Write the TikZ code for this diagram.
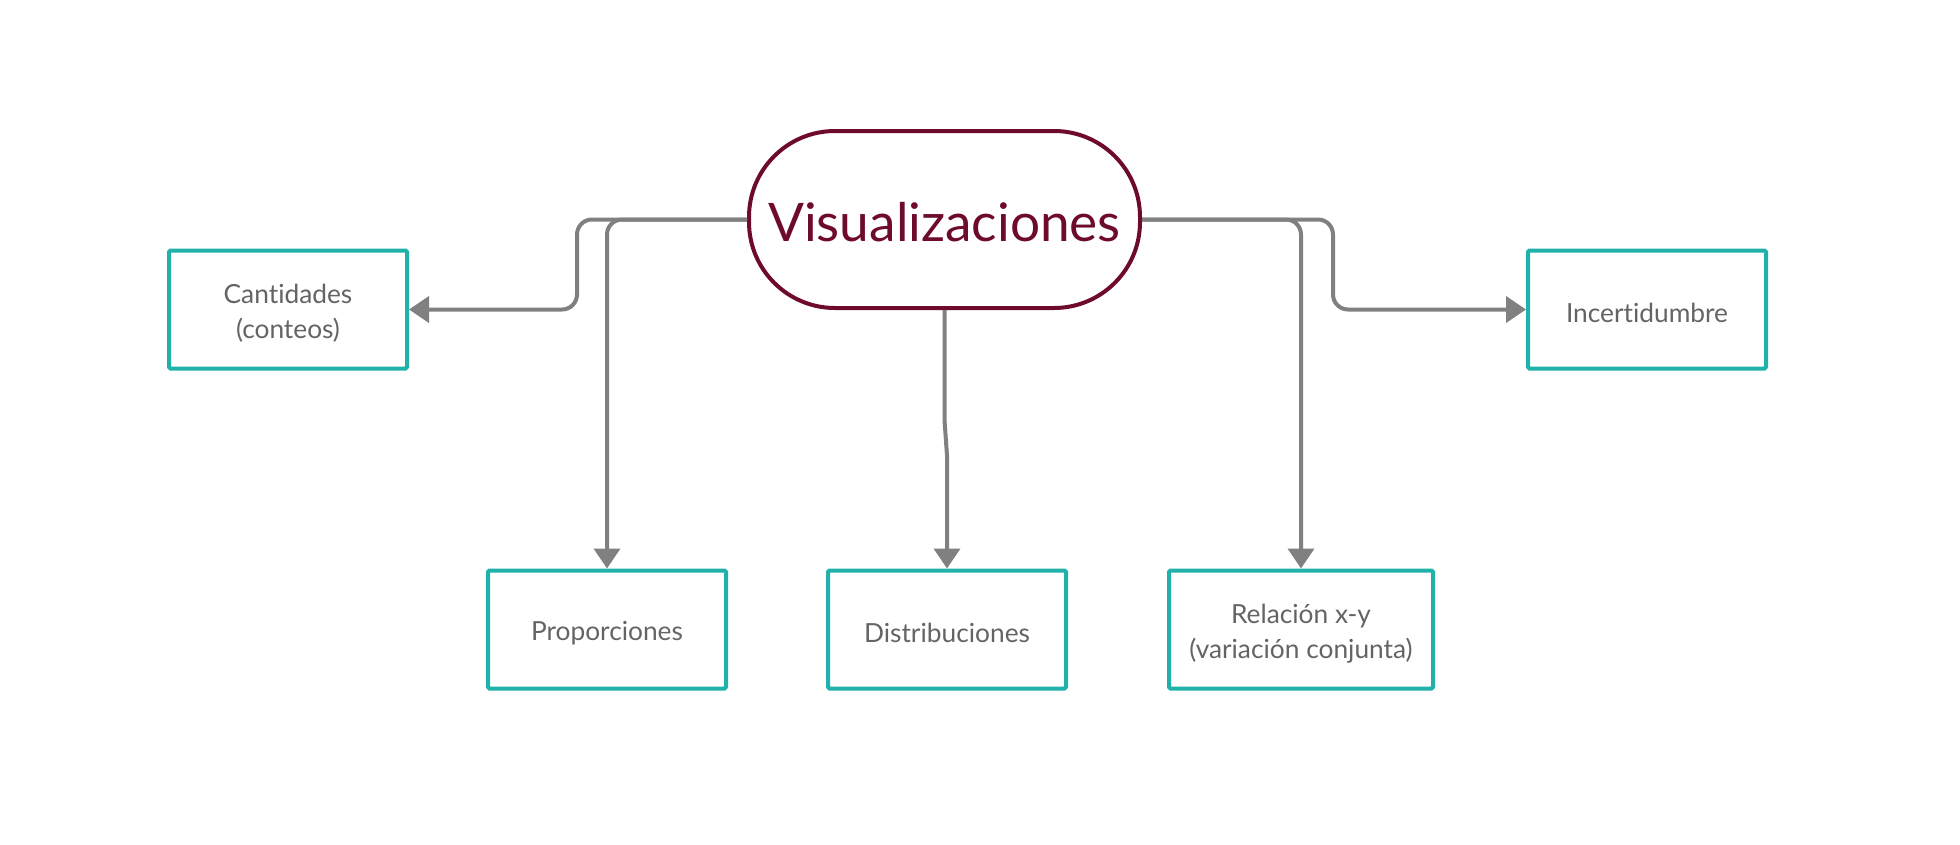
\documentclass[tikz,border=0pt]{standalone}
\usepackage{fontspec}
\setmainfont[Ligatures={NoCommon,NoRare}]{Lato}
\usetikzlibrary{arrows.meta,calc}
\definecolor{maroon}{RGB}{110,10,45}
\definecolor{tealb}{RGB}{32,178,170}
\definecolor{conngray}{RGB}{128,128,128}
\definecolor{txtgray}{RGB}{100,100,100}
\newcommand{\mystrut}{\rule{0pt}{27pt}}
\newcommand{\bigstrut}{\rule{0pt}{45pt}}
\tikzset{
  box/.style={draw=tealb, line width=4pt, rounded corners=1.5pt, fill=white,
    minimum width=238pt, minimum height=118pt, inner sep=0pt,
    align=center, text=txtgray, font=\fontsize{26.3pt}{35pt}\selectfont},
  central/.style={draw=maroon, line width=4pt, rounded corners=86pt, fill=white,
    minimum width=391pt, minimum height=177pt, inner sep=0pt,
    text=maroon, font=\fontsize{53.2pt}{60pt}\selectfont},
  conn/.style={draw=conngray, line width=4pt, rounded corners=15pt,
    -{Triangle[length=20pt,width=26pt]}}
}
\begin{document}
\begin{tikzpicture}[x=1pt,y=-1pt]
\useasboundingbox (0,0) rectangle (1960,844);
\node[central] (V) at (944.5,219.5) {\bigstrut Visualizaciones};
\node[box] (C) at (288,309.5) {\mystrut Cantidades\\(conteos)};
\node[box] (I) at (1647,309.5) {\mystrut Incertidumbre};
\node[box] (P) at (607,629.5) {\mystrut Proporciones};
\node[box] (D) at (947,629.5) {\mystrut Distribuciones};
\node[box, minimum width=264pt] (R) at (1301,629.5) {\mystrut Relación x-y\\(variación conjunta)};
\draw[conn] (V.west) -- ++(-170,0) |- (C.east);
\draw[conn] (V.west) -| (P.north);
\draw[conn, rounded corners=0pt] (V.south) -- ++(0,110) -- ($(D.north)+(0,-113)$) -- (D.north);
\draw[conn] (V.east) -| (R.north);
\draw[conn] (V.east) -- ++(191,0) |- (I.west);
\end{tikzpicture}
\end{document}
